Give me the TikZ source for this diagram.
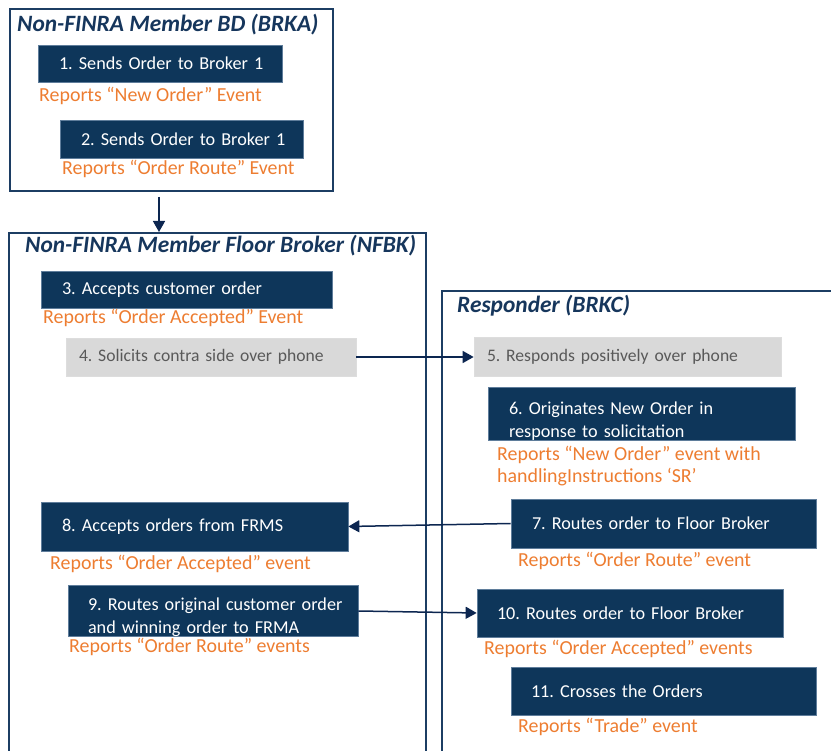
\documentclass[tikz,border=0pt]{standalone}
\usepackage{fontspec}
\setmainfont{Carlito}
\usetikzlibrary{arrows.meta,calc}
\definecolor{navy}{RGB}{14,54,90}
\definecolor{boxedge}{RGB}{95,125,155}
\definecolor{frame}{RGB}{28,61,99}
\definecolor{conn}{RGB}{12,38,80}
\definecolor{ttl}{RGB}{22,54,92}
\definecolor{orng}{RGB}{237,125,49}
\definecolor{greyfill}{RGB}{217,217,217}
\definecolor{greytext}{RGB}{89,89,89}
\frenchspacing
\begin{document}
\begin{tikzpicture}[x=1pt,y=-1pt,
  txt/.style={font=\fontsize{18.2pt}{22.5pt}\selectfont\frenchspacing},
  container/.style={draw=frame,line width=2pt,anchor=north west,inner sep=0pt},
  ttlstyle/.style={font=\fontsize{23.4pt}{26pt}\selectfont\bfseries\itshape,text=ttl,anchor=base west,inner sep=0pt},
  nbox/.style={txt,draw=boxedge,line width=0.7pt,fill=navy,text=white,align=left,inner xsep=21pt,inner ysep=0pt},
  gbox/.style={font=\fontsize{17.6pt}{21pt}\selectfont\frenchspacing,draw=greyfill!90!white,line width=0.7pt,fill=greyfill,text=greytext,align=left,inner xsep=13pt,inner ysep=0pt},
  rep/.style={font=\fontsize{19.9pt}{23pt}\selectfont\frenchspacing,text=orng,anchor=base west,inner sep=0pt,align=left},
  conline/.style={draw=conn,line width=1.5pt},
  arr/.style={conline,-{Triangle[length=11pt,width=12pt]}}]
\useasboundingbox (0,0) rectangle (831,751);
\clip (0,0) rectangle (831,751);
% containers
\node[container,minimum width=323pt,minimum height=182pt] (A) at (9,8) {};
\node[container,minimum width=417pt,minimum height=540pt] (B) at (8,232) {};
\node[container,minimum width=400pt,minimum height=480pt] (C) at (441,290) {};
\node[ttlstyle] (tA) at (17,32) {Non-FINRA Member BD (BRKA)};
\node[ttlstyle] (tB) at (25,253) {Non-FINRA Member Floor Broker (NFBK)};
\node[ttlstyle] (tC) at (457,313) {Responder (BRKC)};
% boxes
\node[nbox,minimum width=244pt,minimum height=37pt,text width=202pt] (b1) at (160,63.5) {\mbox{1. Sends Order to Broker 1}};
\node[nbox,minimum width=243pt,minimum height=38pt,text width=201pt] (b2) at (181.5,139) {\mbox{2. Sends Order to Broker 1}};
\node[nbox,minimum width=291pt,minimum height=37pt,text width=249pt] (b3) at (186.5,289.5) {\mbox{3. Accepts customer order}};
\node[gbox,minimum width=290pt,minimum height=38pt,text width=264pt] (b4) at (211,357) {\mbox{4. Solicits contra side over phone}};
\node[gbox,minimum width=307pt,minimum height=39pt,text width=281pt] (b5) at (627.5,356.5) {\mbox{5. Responds positively over phone}};
\node[nbox,minimum width=307pt,minimum height=50pt,text width=265pt] (b6) at (641.5,414) {\mbox{\rule{0pt}{27pt}6. Originates New Order in}\\\mbox{response to solicitation}};
\node[nbox,minimum width=305pt,minimum height=49pt,text width=263pt] (b7) at (663.5,523.5) {\mbox{7. Routes order to Floor Broker}};
\node[nbox,minimum width=307pt,minimum height=49pt,text width=265pt] (b8) at (194.5,526.5) {\mbox{8. Accepts orders from FRMS}};
\node[nbox,minimum width=290pt,minimum height=50pt,text width=250pt,inner xsep=20pt] (b9) at (213,611) {\mbox{\rule{0pt}{25.5pt}9. Routes original customer order}\\\mbox{and winning order to FRMA}};
\node[nbox,minimum width=306pt,minimum height=48pt,text width=266pt,inner xsep=20pt] (b10) at (630,613) {\mbox{10. Routes order to Floor Broker}};
\node[nbox,minimum width=305pt,minimum height=48pt,text width=265pt,inner xsep=20pt] (b11) at (663.5,691) {\mbox{11. Crosses the Orders}};
% reports
\node[rep] (o1) at (39,102) {Reports “New Order” Event};
\node[rep] (o2) at (62,175) {Reports “Order Route” Event};
\node[rep] (o3) at (43,324) {Reports “Order Accepted” Event};
\node[rep] (o6) at (497,483) {Reports “New Order” event with\\handlingInstructions ‘SR’};
\node[rep] (o7) at (518,566) {Reports “Order Route” event};
\node[rep] (o8) at (50,569) {Reports “Order Accepted” event};
\node[rep] (o9) at (69,652) {Reports “Order Route” events};
\node[rep] (o10) at (484,654) {Reports “Order Accepted” events};
\node[rep] (o11) at (518,732) {Reports “Trade” event};
% connectors
\coordinate (aStart) at ($(A.south west)+(150,5)$);
\draw[arr] (aStart) -- (aStart |- B.north);
\draw[arr] (b4.east) -- (b4.east -| b5.west);
\draw[arr] (b7.west) -- (b8.east);
\draw[arr] (b9.east) -- (b10.west);
\end{tikzpicture}
\end{document}
